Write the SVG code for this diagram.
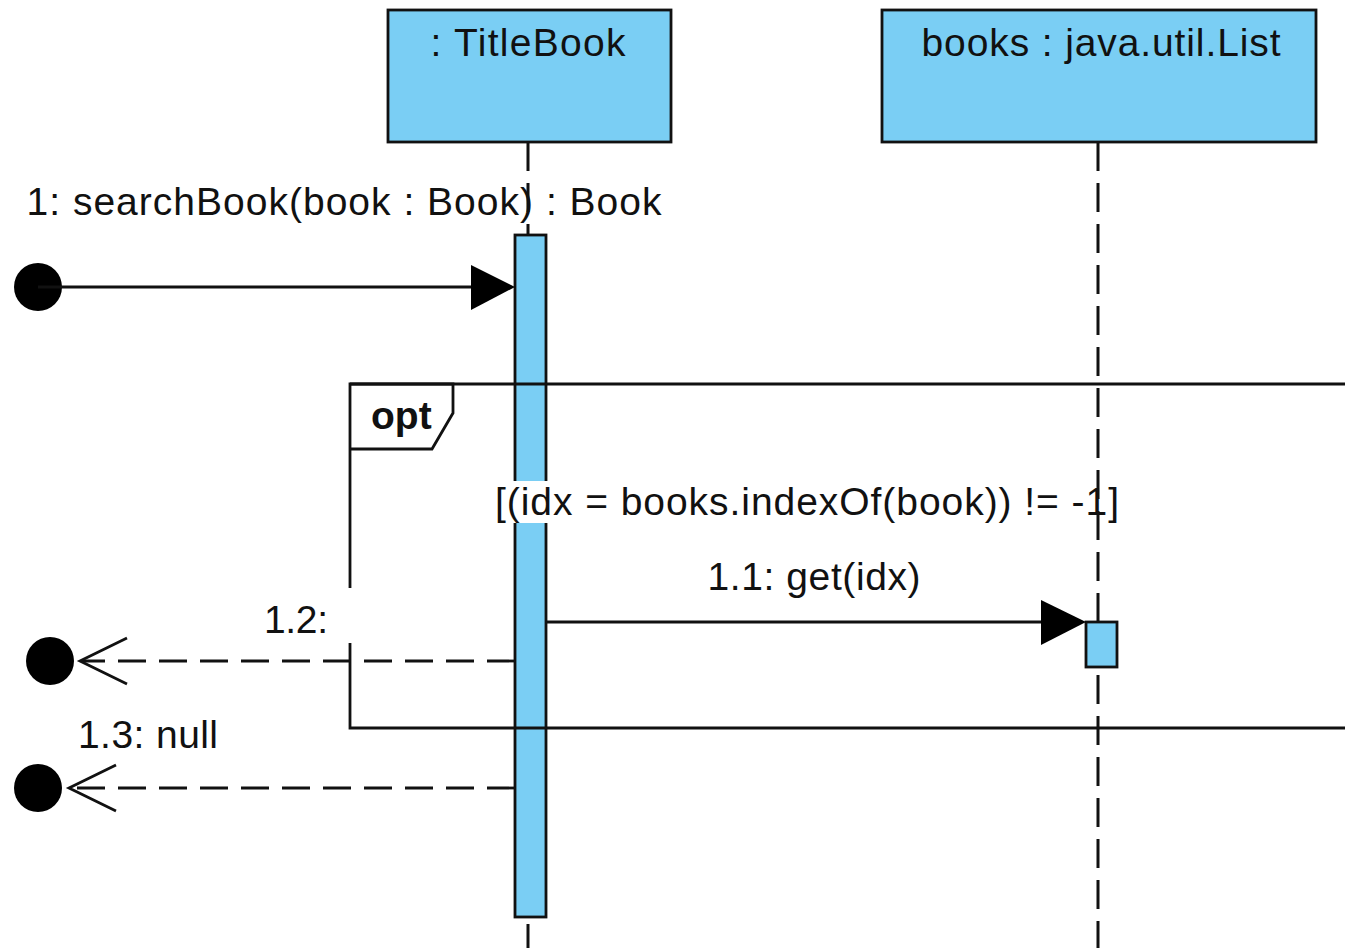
<svg xmlns="http://www.w3.org/2000/svg" width="1345" height="948" viewBox="0 0 1345 948">
<style>
.box{fill:#7acef4;stroke:#111;stroke-width:2.8}
.life{fill:none;stroke:#111;stroke-width:3;stroke-dasharray:29 12}
.msg{fill:none;stroke:#111;stroke-width:2.8}
.ret{fill:none;stroke:#111;stroke-width:2.8;stroke-dasharray:28 13}
.frame{fill:none;stroke:#111;stroke-width:2.8}
.bg{fill:#fff}
text{font-family:"Liberation Sans",Arial,sans-serif;font-size:39px;fill:#111}
.b{font-weight:bold}
</style>
<rect width="1345" height="948" fill="#fff"/>
<g id="lifeline-titlebook">
<line class="life" x1="528" y1="142" x2="528" y2="235"/>
<line class="life" x1="528" y1="924" x2="528" y2="948"/>
<rect class="box" x="388" y="10" width="283" height="132"/>
<text x="528" y="56" text-anchor="middle" textLength="195" lengthAdjust="spacing">: TitleBook</text>
</g>
<g id="activation-titlebook">
<rect class="box" x="515" y="235" width="31" height="682"/>
</g>
<g id="opt-frame">
<path class="frame" d="M1345 384 H350 V728 H1345"/>
<path class="frame" d="M350 384 H453 V413 L432 449 H350" fill="#fff"/>
<text class="b" x="371" y="429">opt</text>
<rect class="bg" x="493" y="481" width="628" height="42"/>
<text x="807" y="515" text-anchor="middle" textLength="624" lengthAdjust="spacing">[(idx = books.indexOf(book)) != -1]</text>
</g>
<g id="lifeline-books">
<line class="life" x1="1098" y1="142" x2="1098" y2="948"/>
<rect class="box" x="882" y="10" width="434" height="132"/>
<text x="1101" y="56" text-anchor="middle" textLength="359" lengthAdjust="spacing">books : java.util.List</text>
</g>
<g id="activation-books">
<rect class="box" x="1086" y="622" width="31" height="45"/>
</g>
<g id="connectors">
<circle cx="38" cy="287" r="24" fill="#000"/>
<line class="msg" x1="38" y1="287" x2="474" y2="287"/>
<polygon points="515,287 471,265 471,310" fill="#000"/>
<text x="344" y="215" text-anchor="middle" textLength="635" lengthAdjust="spacing">1: searchBook(book : Book) : Book</text>

<line class="msg" x1="546" y1="622" x2="1044" y2="622"/>
<polygon points="1086,622 1041,600 1041,645" fill="#000"/>
<text x="814" y="590" text-anchor="middle" textLength="213" lengthAdjust="spacing">1.1: get(idx)</text>

<rect class="bg" x="258" y="588" width="96" height="55"/>
<line class="ret" x1="515" y1="661" x2="82" y2="661"/>
<polyline class="msg" points="127,638 80,661 127,684"/>
<circle cx="50" cy="661" r="24" fill="#000"/>
<text x="296" y="633" text-anchor="middle" textLength="64" lengthAdjust="spacing">1.2:</text>

<line class="ret" x1="515" y1="788" x2="70" y2="788"/>
<polyline class="msg" points="116,765 69,788 116,811"/>
<circle cx="38" cy="788" r="24" fill="#000"/>
<text x="148" y="748" text-anchor="middle" textLength="140" lengthAdjust="spacing">1.3: null</text>
</g>
</svg>
